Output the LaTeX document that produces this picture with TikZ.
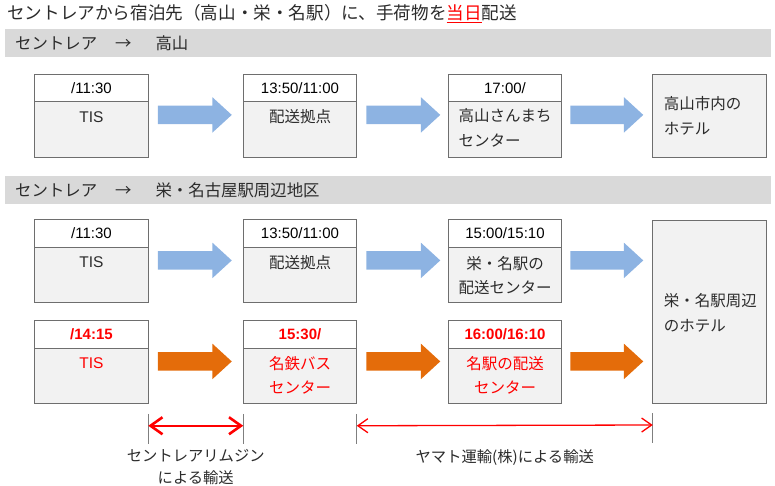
\documentclass[tikz,border=0pt]{standalone}
\usepackage{fontspec}
\setmainfont{Liberation Sans}
\newfontfamily\jp{Noto Sans CJK JP}
\usetikzlibrary{shapes.arrows,calc,arrows.meta}
\definecolor{bordercol}{HTML}{6E6E6E}
\definecolor{boxfill}{HTML}{F2F2F2}
\definecolor{barfill}{HTML}{D9D9D9}
\definecolor{arrblue}{HTML}{8DB3E2}
\definecolor{arrorange}{HTML}{E46C0A}
\definecolor{txtgray}{HTML}{2B2B2B}
\definecolor{linegray}{HTML}{7F7F7F}
\definecolor{myred}{HTML}{FF0000}
\begin{document}
\begin{tikzpicture}[x=1pt,y=-1pt,
  hdr/.style={draw=bordercol, line width=0.8pt, fill=white, minimum width=113.5pt, minimum height=27.5pt, inner sep=0pt, outer sep=0pt, font=\fontsize{15}{18}\selectfont, text=black},
  bdy/.style={draw=bordercol, line width=0.8pt, fill=boxfill, minimum width=113.5pt, minimum height=55.5pt, inner sep=0pt, outer sep=0pt},
  btxt/.style={inner sep=0pt, align=center, text=txtgray, font=\jp\fontsize{15.5}{24}\selectfont},
  ltxt/.style={inner sep=0pt, align=left, text=txtgray, font=\jp\fontsize{15.5}{25}\selectfont},
  redtime/.style={text=myred, font=\bfseries\fontsize{15}{18}\selectfont},
  barrow/.style={single arrow, draw=none, anchor=tail, inner xsep=0pt, inner ysep=9pt, outer sep=0pt, minimum height=74pt, single arrow head extend=8.5pt, single arrow tip angle=85, single arrow head indent=0pt},
  bar/.style={fill=barfill, draw=none, minimum width=766pt, minimum height=28pt, inner sep=0pt},
  bartxt/.style={inner sep=0pt, anchor=west, text=txtgray, font=\jp\fontsize{16.4}{20}\selectfont},
  vline/.style={draw=linegray, line width=1pt},
  dimtxt/.style={inner sep=0pt, align=center, text=txtgray, font=\jp\fontsize{15.3}{22}\selectfont}
]
\useasboundingbox (0,0) rectangle (775,486);
% title
\node[inner sep=0pt, anchor=west, text=txtgray, font=\jp\fontsize{17.6}{20}\selectfont] (title) at (7,14)
  {セントレアから宿泊先（高山・栄・名駅）に、手荷物を\textcolor{myred}{\underline{当日}}配送};
% header bars
\node[bar] (bar1) at (388,43) {};
\node[bartxt] (bar1t) at (15,43) {セントレア\hspace{18pt}→\hspace{24pt}高山};
\node[bar] (bar2) at (388,190) {};
\node[bartxt] (bar2t) at (15,190) {セントレア\hspace{18pt}→\hspace{24pt}栄・名古屋駅周辺地区};

% ---- row 1 (Takayama)
\node[hdr] (h11) at (91.5,88) {/11:30};
\node[bdy, anchor=north] (b11) at (h11.south) {};
\node[hdr] (h12) at (300,88) {13:50/11:00};
\node[bdy, anchor=north] (b12) at (h12.south) {};
\node[hdr] (h13) at (505,88) {17:00/};
\node[bdy, anchor=north] (b13) at (h13.south) {};
\node[bdy, minimum height=83pt] (ht1) at (709.5,115.5) {};
\node[btxt, font=\fontsize{15.5}{24}\selectfont] (t11) at ($(b11.north)+(0,15)$) {TIS};
\node[btxt] (t12) at ($(b12.north)+(0,15)$) {配送拠点};
\node[ltxt] (t13) at ($(b13.north)+(0,26)$) {高山さんまち\\センター};
\node[ltxt, anchor=west] (tht1) at ($(ht1.west)+(11,0)$) {高山市内の\\ホテル};
\node[barrow, fill=arrblue] (ar11) at ($(h11.north east)!0.49!(b11.south east)+(9.5,0)$) {};
\node[barrow, fill=arrblue] (ar12) at ($(h12.north east)!0.49!(b12.south east)+(9.5,0)$) {};
\node[barrow, fill=arrblue, minimum height=73pt] (ar13) at ($(h13.north east)!0.49!(b13.south east)+(8.5,0)$) {};

% ---- row 2 (Sakae, blue)
\node[hdr] (h21) at (91.5,233.5) {/11:30};
\node[bdy, anchor=north] (b21) at (h21.south) {};
\node[hdr] (h22) at (300,233.5) {13:50/11:00};
\node[bdy, anchor=north] (b22) at (h22.south) {};
\node[hdr] (h23) at (505,233.5) {15:00/15:10};
\node[bdy, anchor=north] (b23) at (h23.south) {};
\node[btxt, font=\fontsize{15.5}{24}\selectfont] (t21) at ($(b21.north)+(0,15)$) {TIS};
\node[btxt] (t22) at ($(b22.north)+(0,15)$) {配送拠点};
\node[btxt] (t23) at ($(b23.north)+(0,28)$) {栄・名駅の\\配送センター};

% ---- row 3 (Sakae, orange)
\node[hdr, redtime] (h31) at (91.5,334.5) {/14:15};
\node[bdy, anchor=north] (b31) at (h31.south) {};
\node[hdr, redtime] (h32) at (300,334.5) {15:30/};
\node[bdy, anchor=north] (b32) at (h32.south) {};
\node[hdr, redtime] (h33) at (505,334.5) {16:00/16:10};
\node[bdy, anchor=north] (b33) at (h33.south) {};
\node[btxt, text=myred, font=\fontsize{15.5}{24}\selectfont] (t31) at ($(b31.north)+(0,15)$) {TIS};
\node[btxt, text=myred] (t32) at ($(b32.north)+(0,27)$) {名鉄バス\\センター};
\node[btxt, text=myred] (t33) at ($(b33.north)+(0,27)$) {名駅の配送\\センター};

% big hotel
\node[bdy, minimum height=183pt] (ht2) at (709.5,311.5) {};
\node[ltxt, anchor=west] (tht2) at ($(ht2.west)+(11,1)$) {栄・名駅周辺\\のホテル};

\node[barrow, fill=arrblue] (ar21) at ($(h21.north east)!0.49!(b21.south east)+(9.5,0)$) {};
\node[barrow, fill=arrblue] (ar22) at ($(h22.north east)!0.49!(b22.south east)+(9.5,0)$) {};
\node[barrow, fill=arrblue, minimum height=73pt] (ar23) at ($(h23.north east)!0.49!(b23.south east)+(8.5,0)$) {};
\node[barrow, fill=arrorange] (ar31) at ($(h31.north east)!0.49!(b31.south east)+(9.5,0)$) {};
\node[barrow, fill=arrorange] (ar32) at ($(h32.north east)!0.49!(b32.south east)+(9.5,0)$) {};
\node[barrow, fill=arrorange, minimum height=73pt] (ar33) at ($(h33.north east)!0.49!(b33.south east)+(8.5,0)$) {};

% ---- bottom dimension lines
\coordinate (v1t) at ($(b31.south east)+(0,10)$);
\coordinate (v1b) at ($(b31.south east)+(0,40)$);
\coordinate (v2t) at ($(b32.south west)+(0,10)$);
\coordinate (v2b) at ($(b32.south west)+(0,40)$);
\coordinate (v3t) at ($(b32.south east)+(0,10)$);
\coordinate (v3b) at ($(b32.south east)+(0,40)$);
\coordinate (v4t) at ($(ht2.south west)+(0,10)$);
\coordinate (v4b) at ($(ht2.south west)+(0,40)$);
\draw[vline] (v1t) -- (v1b);
\draw[vline] (v2t) -- (v2b);
\draw[vline] (v3t) -- (v3b);
\draw[vline] (v4t) -- (v4b);
\coordinate (d1s) at ($(v1t)!0.4!(v1b)$);
\coordinate (d1e) at ($(v2t)!0.4!(v2b)$);
\coordinate (d2s) at ($(v3t)!0.4!(v3b)$);
\coordinate (d2e) at ($(v4t)!0.4!(v4b)$);
\draw[myred, line width=2.4pt, {Straight Barb[length=12pt,width=17pt,line width=2.6pt]}-{Straight Barb[length=12pt,width=17pt,line width=2.6pt]}] (d1s) -- (d1e);
\draw[myred, line width=1.3pt, {Straight Barb[length=10pt,width=14pt,line width=1.3pt]}-{Straight Barb[length=10pt,width=14pt,line width=1.3pt]}] (d2s) -- (d2e);
\node[dimtxt] (lab1) at ($(d1s)!0.5!(d1e)+(0,41)$) {セントレアリムジン\\による輸送};
\node[dimtxt] (lab2) at ($(d2s)!0.5!(d2e)+(0,32)$) {ヤマト運輸(株)による輸送};
\end{tikzpicture}
\end{document}
